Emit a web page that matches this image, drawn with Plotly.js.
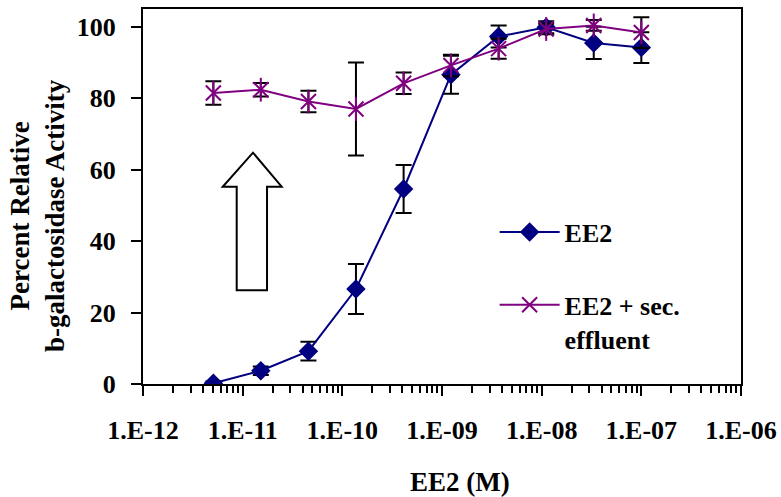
<!DOCTYPE html>
<html>
<head>
<meta charset="utf-8">
<script src="https://cdn.plot.ly/plotly-3.0.1.min.js"></script>
<style>html,body{margin:0;padding:0;background:#fff;}#chart{width:781px;height:497px;}</style>
</head>
<body>
<div id="chart"></div>
<script>
// Concentrations (M), 3-fold dilution series
const conc = [5.08e-12, 1.52e-11, 4.57e-11, 1.37e-10, 4.12e-10, 1.23e-9, 3.70e-9, 1.11e-8, 3.33e-8, 1.0e-7];
// EE2 alone
const ee2 = [0.2, 3.7, 9.2, 26.6, 54.6, 86.6, 97.3, 99.9, 95.5, 94.2];
const ee2Err = [0.5, 1.2, 2.6, 7.0, 6.7, 5.3, 3.1, 1.7, 4.5, 4.3];
// EE2 + secondary effluent
const eff = [81.5, 82.4, 79.1, 77.0, 84.2, 89.2, 93.9, 99.4, 100.4, 98.4];
const effErr = [3.3, 1.9, 3.0, 13.0, 3.0, 3.0, 2.8, 1.5, 1.5, 4.3];

const xTickVals = [1e-12, 1e-11, 1e-10, 1e-9, 1e-8, 1e-7, 1e-6];
const xTickText = ['1.E-12', '1.E-11', '1.E-10', '1.E-09', '1.E-08', '1.E-07', '1.E-06'];
const yTickVals = [0, 20, 40, 60, 80, 100];

const FONT = 'Liberation Serif';
const NAVY = '#000080';
const PURPLE = '#800080';

const traces = [
  {
    x: conc, y: ee2, name: 'EE2', type: 'scatter', mode: 'lines+markers',
    legendgroup: 'a',
    line: {color: NAVY, width: 2},
    marker: {symbol: 'diamond', size: 15, color: NAVY},
    error_y: {type: 'data', array: ee2Err, visible: true, color: '#000', thickness: 2, width: 8}
  },
  {
    x: conc, y: eff, name: 'EE2 + sec.<br>effluent', type: 'scatter', mode: 'lines+markers',
    legendgroup: 'b',
    line: {color: PURPLE, width: 2},
    marker: {symbol: 'x-thin-open', size: 15, color: PURPLE, line: {color: PURPLE, width: 2}},
    error_y: {type: 'data', array: effErr, visible: true, color: '#000', thickness: 2, width: 8}
  },
  {
    x: conc, y: eff, type: 'scatter', mode: 'markers', showlegend: false, hoverinfo: 'skip',
    marker: {symbol: 'line-ns-open', size: 17, color: PURPLE, line: {color: PURPLE, width: 2}}
  }
];

const layout = {
  width: 781, height: 497,
  margin: {l: 143, r: 40, t: 9, b: 113, pad: 0},
  paper_bgcolor: '#fff', plot_bgcolor: '#fff',
  font: {family: FONT, color: '#000', size: 26},
  showlegend: true,
  legend: {
    x: 0.588, y: 0.468, xanchor: 'left', yanchor: 'top',
    bgcolor: 'rgba(0,0,0,0)', borderwidth: 0,
    font: {family: FONT, size: 26, weight: 700, color: '#000'},
    tracegroupgap: 36, valign: 'top', itemwidth: 60
  },
  xaxis: {
    type: 'log', range: [-12, -6],
    tickvals: xTickVals, ticktext: xTickText,
    ticks: 'outside', ticklen: 10, tickwidth: 2, tickcolor: '#000',
    ticklabelstandoff: 12,
    minor: {dtick: 'D1', ticks: 'outside', ticklen: 7, tickwidth: 2, tickcolor: '#000', showgrid: false},
    showline: true, linewidth: 2, linecolor: '#000', mirror: true,
    showgrid: false, zeroline: false,
    tickfont: {family: FONT, size: 26, weight: 700, color: '#000'}
  },
  yaxis: {
    range: [0, 105], tickvals: yTickVals,
    ticks: 'outside', ticklen: 10, tickwidth: 2, tickcolor: '#000',
    ticklabelstandoff: 10,
    showline: true, linewidth: 2, linecolor: '#000', mirror: true,
    showgrid: false, zeroline: false,
    tickfont: {family: FONT, size: 26, weight: 700, color: '#000'}
  },
  annotations: [
    {
      text: 'Percent Relative<br>b-galactosidase Activity', textangle: -90,
      xref: 'paper', yref: 'paper', x: -0.1756, y: 0.4507,
      xanchor: 'center', yanchor: 'middle', showarrow: false,
      font: {family: FONT, size: 27, weight: 700, color: '#000'}
    },
    {
      text: 'EE2 (M)',
      xref: 'paper', yref: 'paper', x: 0.530, y: -0.262,
      xanchor: 'center', yanchor: 'middle', showarrow: false,
      font: {family: FONT, size: 27, weight: 700, color: '#000'}
    }
  ],
  shapes: [
    {
      type: 'path', xref: 'paper', yref: 'paper',
      path: 'M 0.1567 0.2499 L 0.2074 0.2499 L 0.2074 0.5261 L 0.2319 0.5261 L 0.1839 0.6168 L 0.1333 0.5261 L 0.1567 0.5261 Z',
      line: {color: '#000', width: 2}, fillcolor: '#fff', layer: 'below'
    }
  ]
};

Plotly.newPlot('chart', traces, layout, {staticPlot: true, displayModeBar: false});
</script>
</body>
</html>
